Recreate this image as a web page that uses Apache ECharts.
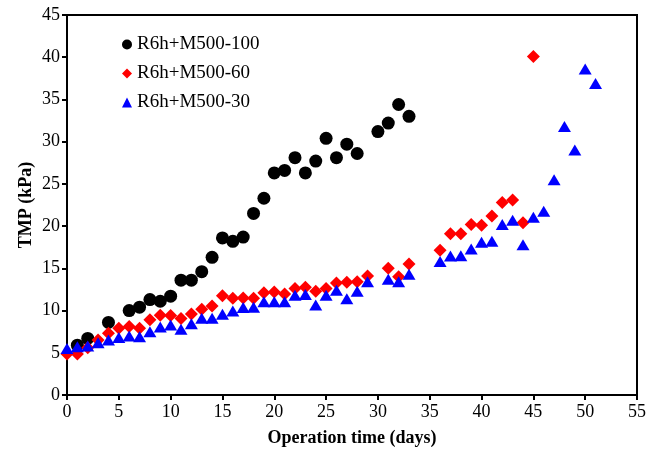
<!DOCTYPE html>
<html>
<head>
<meta charset="utf-8">
<script src="https://cdn.jsdelivr.net/npm/echarts@6/dist/echarts.min.js"></script>
<style>
  html, body { margin: 0; padding: 0; background: #fff; }
  #chart { width: 657px; height: 452px; }
</style>
</head>
<body>
<div id="chart"></div>
<script>
// TMP over operation time for three membrane configurations
const seriesNames = ['R6h+M500-100', 'R6h+M500-60', 'R6h+M500-30'];

const days100 = [1, 2, 4, 6, 7, 8, 9, 10, 11, 12, 13, 14, 15, 16, 17, 18, 19, 20, 21, 22, 23, 24, 25, 26, 27, 28, 30, 31, 32, 33];
const tmp100 = [5.9, 6.7, 8.6, 10.0, 10.4, 11.3, 11.1, 11.7, 13.6, 13.6, 14.6, 16.3, 18.6, 18.2, 18.7, 21.5, 23.3, 26.3, 26.6, 28.1, 26.3, 27.7, 30.4, 28.1, 29.7, 28.6, 31.2, 32.2, 34.4, 33.0];

const days60 = [0, 1, 2, 3, 4, 5, 6, 7, 8, 9, 10, 11, 12, 13, 14, 15, 16, 17, 18, 19, 20, 21, 22, 23, 24, 25, 26, 27, 28, 29, 31, 32, 33, 36, 37, 38, 39, 40, 41, 42, 43, 44, 45];
const tmp60 = [4.85, 4.85, 5.6, 6.5, 7.3, 7.9, 8.1, 7.9, 8.9, 9.45, 9.4, 9.05, 9.6, 10.15, 10.55, 11.75, 11.45, 11.5, 11.45, 12.1, 12.2, 11.95, 12.6, 12.75, 12.3, 12.6, 13.25, 13.35, 13.4, 14.1, 15.0, 14.0, 15.5, 17.15, 19.1, 19.1, 20.2, 20.1, 21.2, 22.8, 23.1, 20.4, 40.1];

const days30 = [0, 1, 2, 3, 4, 5, 6, 7, 8, 9, 10, 11, 12, 13, 14, 15, 16, 17, 18, 19, 20, 21, 22, 23, 24, 25, 26, 27, 28, 29, 31, 32, 33, 36, 37, 38, 39, 40, 41, 42, 43, 44, 45, 46, 47, 48, 49, 50, 51];
const tmp30 = [5.5, 5.7, 5.8, 6.2, 6.5, 6.8, 7.0, 6.9, 7.5, 8.05, 8.3, 7.8, 8.45, 9.1, 9.1, 9.55, 9.95, 10.35, 10.4, 11.05, 11.05, 11.05, 11.8, 11.9, 10.65, 11.8, 12.4, 11.4, 12.3, 13.4, 13.7, 13.4, 14.3, 15.8, 16.45, 16.5, 17.3, 18.1, 18.2, 20.2, 20.7, 17.8, 21.05, 21.75, 25.5, 31.8, 29.0, 38.6, 36.9];

const xTicks = [0, 55, 5];   // min, max, interval
const yTicks = [0, 45, 5];

const pairs = (xs, ys) => xs.map((x, i) => [x, ys[i]]);

const serif = 'Liberation Serif';
const chart = echarts.init(document.getElementById('chart'), null, { renderer: 'canvas' });

const axisCommon = {
  axisLine: { show: true, onZero: false, lineStyle: { color: '#000', width: 2 } },
  axisTick: { show: true, inside: false, length: 5, lineStyle: { color: '#000', width: 2 } },
  splitLine: { show: false },
  axisLabel: { color: '#000', fontFamily: serif, fontSize: 18 },
  nameLocation: 'middle',
  nameMoveOverlap: false,
  nameTextStyle: { color: '#000', fontFamily: serif, fontSize: 18, fontWeight: 'bold' }
};

chart.setOption({
  animation: false,
  backgroundColor: '#fff',
  grid: {
    left: 67, right: 20, top: 15, bottom: 56,
    show: true, borderColor: '#000', borderWidth: 2, backgroundColor: 'transparent'
  },
  legend: {
    orient: 'vertical',
    left: 117, top: 30,
    itemWidth: 10, itemHeight: 10,
    itemGap: 10,
    textStyle: { color: '#000', fontFamily: serif, fontSize: 19 },
    data: seriesNames
  },
  xAxis: Object.assign({}, axisCommon, {
    type: 'value',
    min: xTicks[0], max: xTicks[1], interval: xTicks[2],
    name: 'Operation time (days)',
    nameGap: 34,
    axisLabel: Object.assign({}, axisCommon.axisLabel, { margin: 8 })
  }),
  yAxis: Object.assign({}, axisCommon, {
    type: 'value',
    min: yTicks[0], max: yTicks[1], interval: yTicks[2],
    name: 'TMP (kPa)',
    nameGap: 32,
    axisLabel: Object.assign({}, axisCommon.axisLabel, { margin: 7 })
  }),
  series: [
    {
      name: seriesNames[0], type: 'scatter', symbol: 'circle', symbolSize: 13,
      itemStyle: { color: '#000', opacity: 1 }, data: pairs(days100, tmp100)
    },
    {
      name: seriesNames[1], type: 'scatter', symbol: 'diamond', symbolSize: 13,
      itemStyle: { color: '#ff0000', opacity: 1 }, data: pairs(days60, tmp60)
    },
    {
      name: seriesNames[2], type: 'scatter', symbol: 'triangle', symbolSize: [13, 11],
      itemStyle: { color: '#0000ff', opacity: 1 }, data: pairs(days30, tmp30)
    }
  ]
});
</script>
</body>
</html>
